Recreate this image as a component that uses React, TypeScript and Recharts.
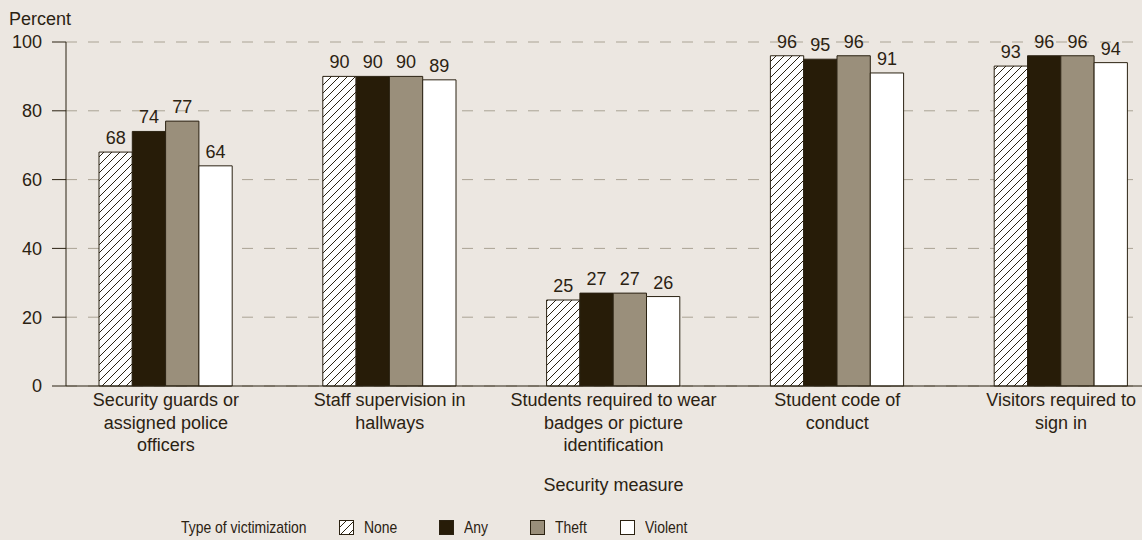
import { BarChart, Bar, XAxis, YAxis, CartesianGrid, LabelList, Legend } from "recharts";

const categories = [
  "Security guards or assigned police officers",
  "Staff supervision in hallways",
  "Students required to wear badges or picture identification",
  "Student code of conduct",
  "Visitors required to sign in",
];

// where each category name breaks under the axis
const categoryLines = [
  ["Security guards or", "assigned police", "officers"],
  ["Staff supervision in", "hallways"],
  ["Students required to wear", "badges or picture", "identification"],
  ["Student code of", "conduct"],
  ["Visitors required to", "sign in"],
];

const noneValues = [68, 90, 25, 96, 93];
const anyValues = [74, 90, 27, 95, 96];
const theftValues = [77, 90, 27, 96, 96];
const violentValues = [64, 89, 26, 91, 94];

const yTicks = [0, 20, 40, 60, 80, 100];

const BG = "#ece7e1";
const INK = "#2b2212";
const GRID = "#aaa394";
const SANS = "'Liberation Sans', Arial, Helvetica, sans-serif";

const series = [
  { key: "none", name: "None", fill: "url(#hatch)" },
  { key: "any", name: "Any", fill: "#271c08" },
  { key: "theft", name: "Theft", fill: "#9a8f7b" },
  { key: "violent", name: "Violent", fill: "#ffffff" },
];

const data = categories.map((category, i) => ({
  category,
  none: noneValues[i],
  any: anyValues[i],
  theft: theftValues[i],
  violent: violentValues[i],
}));

function CategoryTick({ x, y, payload }: any) {
  const idx = categories.indexOf(payload.value);
  const lines = idx >= 0 ? categoryLines[idx] : [payload.value];
  return (
    <text x={x} y={y} textAnchor="middle" fill={INK} fontSize={18}>
      {lines.map((line, i) => (
        <tspan key={i} x={x} dy={i === 0 ? 20 : 22.5}>
          {line}
        </tspan>
      ))}
    </text>
  );
}

function Swatch({ fill }: { fill: string }) {
  return (
    <svg width={15} height={15} style={{ display: "block" }}>
      <rect x={0.5} y={0.5} width={14} height={14} fill={fill} stroke={INK} strokeWidth={1} />
    </svg>
  );
}

// legend text is set condensed
const narrow: React.CSSProperties = {
  display: "inline-block",
  transform: "scaleX(0.82)",
  transformOrigin: "left center",
  whiteSpace: "nowrap",
};

const legendLeft = [339, 439, 530, 620];

function VictimLegend() {
  return (
    <div style={{ position: "relative", height: 30, fontSize: 17, color: INK }}>
      <span style={{ ...narrow, position: "absolute", left: 181, top: 7.5, lineHeight: "20px" }}>
        Type of victimization
      </span>
      {series.map((s, i) => (
        <div
          key={s.key}
          style={{ position: "absolute", left: legendLeft[i], top: 10, display: "flex", alignItems: "center", gap: 10 }}
        >
          <Swatch fill={s.fill} />
          <span style={{ ...narrow, lineHeight: "15px" }}>{s.name}</span>
        </div>
      ))}
    </div>
  );
}

export default function App() {
  return (
    <div
      style={{
        position: "absolute",
        left: 0,
        top: 0,
        width: 1142,
        height: 540,
        overflow: "hidden",
        background: BG,
        fontFamily: SANS,
      }}
    >
      <svg width={0} height={0} style={{ position: "absolute" }}>
        <defs>
          <pattern id="hatch" width={8} height={8} patternUnits="userSpaceOnUse">
            <rect width={8} height={8} fill="#ffffff" />
            <path d="M-2,2 L2,-2 M0,8 L8,0 M6,10 L10,6" stroke={INK} strokeWidth={1} />
          </pattern>
        </defs>
      </svg>
      <BarChart
        width={1161}
        height={540}
        data={data}
        margin={{ top: 42, right: 0, bottom: 0, left: 0 }}
        barGap={0}
        barSize={33.3}
      >
        <CartesianGrid vertical={false} stroke={GRID} strokeDasharray="11 11" />
        <XAxis
          dataKey="category"
          height={124}
          padding={{ left: -12, right: -12 }}
          tickLine={false}
          tickSize={0}
          tickMargin={0}
          axisLine={{ stroke: INK, strokeWidth: 1 }}
          tick={<CategoryTick />}
          interval={0}
          label={{ value: "Security measure", position: "insideBottom", offset: 19, fill: INK, fontSize: 18 }}
        />
        <YAxis
          width={66}
          domain={[0, 100]}
          ticks={yTicks}
          interval={0}
          tickSize={14}
          tickMargin={10}
          axisLine={{ stroke: INK, strokeWidth: 1 }}
          tickLine={{ stroke: INK, strokeWidth: 1 }}
          tick={{ fill: INK, fontSize: 18 }}
          label={{
            content: () => (
              <text x={9} y={25} fill={INK} fontSize={18}>
                Percent
              </text>
            ),
          }}
        />
        {series.map((s) => (
          <Bar
            key={s.key}
            dataKey={s.key}
            name={s.name}
            fill={s.fill}
            stroke={INK}
            strokeWidth={1}
            isAnimationActive={false}
          >
            <LabelList dataKey={s.key} position="top" offset={8} fill={INK} fontSize={18} />
          </Bar>
        ))}
        <Legend
          verticalAlign="bottom"
          content={<VictimLegend />}
          wrapperStyle={{ left: 0, bottom: 0, width: 1161, height: 30 }}
        />
      </BarChart>
    </div>
  );
}
